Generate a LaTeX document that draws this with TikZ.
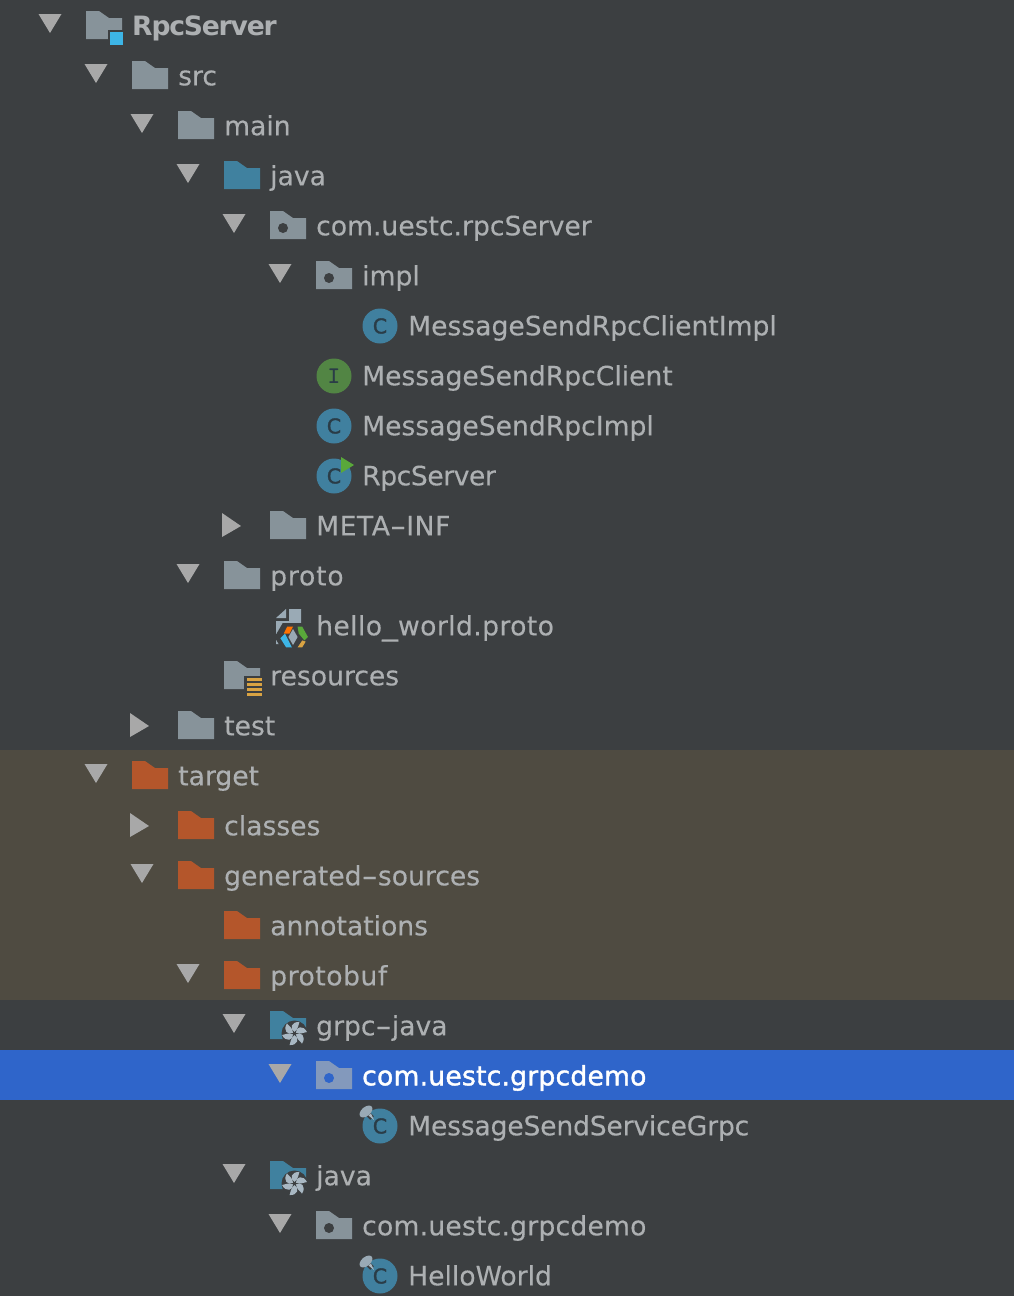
\documentclass[tikz,border=0pt]{standalone}
\usepackage{fontspec}
\setmainfont{DejaVu Sans}
\newfontfamily\rowfont[FakeBold=0.25]{DejaVu Sans}
\newfontfamily\pickedfont[FakeBold=1.5]{DejaVu Sans}
\usetikzlibrary{positioning}

\definecolor{panelbg}{HTML}{3C3F41}
\definecolor{excludedbg}{HTML}{4F4B41}
\definecolor{selectbg}{HTML}{2F65CA}
\definecolor{labelgray}{HTML}{ADB0B2}
\definecolor{arrowgray}{HTML}{A8A8A8}
\definecolor{foldergray}{HTML}{87939A}
\definecolor{folderselect}{HTML}{8399BC}
\definecolor{folderblue}{HTML}{40819F}
\definecolor{folderorange}{HTML}{B4562B}
\definecolor{classblue}{HTML}{40809F}
\definecolor{ifacegreen}{HTML}{528544}
\definecolor{glyphdark}{HTML}{2A3C47}
\definecolor{runngreen}{HTML}{59A83A}
\definecolor{modulecyan}{HTML}{3DB5E6}
\definecolor{stripeyellow}{HTML}{D9A343}
\definecolor{fanlight}{HTML}{A9B8C3}
\definecolor{paperlight}{HTML}{9AAAB5}

\newcommand{\widehyphen}{\scalebox{1.7}[1]{-}}

\tikzset{
    rowlabel/.style={anchor=base west, inner sep=0pt, yshift=0.7pt, text=labelgray, font=\fontsize{26.6}{30}\rowfont},
    spacedlabel/.style={rowlabel, font=\fontsize{26.6}{30}\rowfont\addfontfeature{LetterSpace=#1}},
    boldlabel/.style={rowlabel, font=\fontsize{26.6}{30}\bfseries\addfontfeature{LetterSpace=-4.5}},
    selectlabel/.style={rowlabel, text=white, font=\fontsize{26.6}{30}\pickedfont\addfontfeature{LetterSpace=0.8}},
    glyphlabel/.style={inner sep=0pt, text=glyphdark, font=\fontsize{20.5}{20}\pickedfont},
    % tree arrows
    opened/.pic={\fill[arrowgray] (-11.5,-12) -- (11.5,-12) -- (0,7) -- cycle;},
    closed/.pic={\fill[arrowgray] (-12,-13) -- (7,0) -- (-12,11) -- cycle;},
    % folders
    folder/.pic={\fill[#1] (-18,-15) -- (-5,-15) -- (5,-8) -- (18,-8) -- (18,13) -- (-18,13) -- cycle;},
    package/.pic={
        \pic {folder=foldergray};
        \fill[panelbg] (-5,2) circle (5);
    },
    selectedpackage/.pic={
        \pic {folder=folderselect};
        \fill[selectbg] (-5,2) circle (5);
    },
    module/.pic={
        \pic {folder=foldergray};
        \fill[modulecyan, draw=panelbg, line width=1.5pt] (5,5) rectangle (20,20);
    },
    resources/.pic={
        \pic {folder=foldergray};
        \fill[panelbg] (2,0) rectangle (22,22);
        \foreach \s in {2,7,12,17} {
            \fill[stripeyellow] (5,\s) rectangle (20,\s+2.6);
        }
    },
    generated/.pic={
        \pic {folder=folderblue};
        \fill[panelbg] (6.5,7.5) circle (13);
        \foreach \a in {0,60,...,300} {
            \fill[fanlight, shift={(6.5,7.5)}, rotate=\a, scale=1.1]
                (0,-1.5) .. controls (-5,-4) and (-3,-11) .. (4.5,-10.5)
                .. controls (3.5,-8) and (3.5,-4) .. (0,-1.5);
        }
    },
    % class icons
    classicon/.pic={
        \fill[classblue] (0,0) circle (17.5);
        \node[glyphlabel] (classGlyph) at (0,0) {C};
    },
    ifaceicon/.pic={
        \fill[ifacegreen] (0,0) circle (17.5);
        \node[glyphlabel, font=\fontsize{24}{24}\ttfamily\bfseries] (ifaceGlyph) at (0,0) {I};
    },
    runicon/.pic={
        \pic {classicon};
        \fill[runngreen] (7,-19) -- (20,-11) -- (7,-3) -- cycle;
    },
    lockedicon/.pic={
        \pic {classicon};
        \draw[panelbg, line width=5pt] (-15,-15) -- (-8,-8);
        \fill[paperlight, rotate around={40:(-14,-14.5)}] (-14,-14.5) ellipse (7.5 and 4.5);
        \fill[fanlight] (-11.5,-10.5) -- (-9,-12.5) -- (-6,-6) -- cycle;
    },
    protofile/.pic={
        \fill[paperlight] (-12,-8) -- (-2,-8) -- (-2,-17) -- cycle;
        \fill[paperlight] (1,-17) -- (13,-17) -- (13,18) -- (-12,18) -- (-12,-5) -- (1,-5) -- cycle;
        \begin{scope}[shift={(5,11)}, scale=1.15]
            \fill[panelbg] (-9,-12) -- (9,-12) -- (16,0) -- (9,12) -- (-9,12) -- (-16,0) -- cycle;
            \fill[orange!90!red] (-8,-3) -- (-5,-9) -- (0,-9) -- (-3,-3) -- cycle;
            \fill[runngreen] (4,-9) -- (8,-9) -- (13,0) -- (10,3) -- (5,-3) -- cycle;
            \fill[modulecyan] (-11,1) -- (-7,-3) -- (-1,9) -- (-6,9) -- cycle;
            \fill[stripeyellow] (4,9) -- (8,3) -- (11,4) -- (8,9) -- cycle;
            \fill[paperlight] (0,-7) -- (4,0) -- (0,7) -- (-4,0) -- cycle;
        \end{scope}
    }
}

\begin{document}
\begin{tikzpicture}[x=1pt, y=-1pt]
    \useasboundingbox (0,0) rectangle (1014,1296);

    % === Panel backgrounds ===
    \fill[panelbg] (0,0) rectangle (1014,1296);
    \fill[excludedbg] (0,750) rectangle (1014,1000);
    \fill[selectbg] (0,1050) rectangle (1014,1100);

    % === Sources ===
    \pic at (50,26) {opened};
    \pic at (104,26) {module};
    \node[boldlabel] (rpcServerRoot) at (132,36) {RpcServer};

    \pic at (96,76) {opened};
    \pic at (150,76) {folder=foldergray};
    \node[rowlabel] (srcDir) at (178,86) {src};

    \pic at (142,126) {opened};
    \pic at (196,126) {folder=foldergray};
    \node[rowlabel] (mainDir) at (224,136) {main};

    \pic at (188,176) {opened};
    \pic at (242,176) {folder=folderblue};
    \node[rowlabel] (javaDir) at (270,186) {java};

    \pic at (234,226) {opened};
    \pic at (288,226) {package};
    \node[rowlabel] (rpcPackage) at (316,236) {com.uestc.rpcServer};

    \pic at (280,276) {opened};
    \pic at (334,276) {package};
    \node[rowlabel] (implPackage) at (362,286) {impl};

    \pic at (380,326) {classicon};
    \node[rowlabel] (clientImpl) at (408,336) {MessageSendRpcClientImpl};

    \pic at (334,376) {ifaceicon};
    \node[rowlabel] (clientIface) at (362,386) {MessageSendRpcClient};

    \pic at (334,426) {classicon};
    \node[rowlabel] (rpcImpl) at (362,436) {MessageSendRpcImpl};

    \pic at (334,476) {runicon};
    \node[spacedlabel=-1.7] (rpcServerClass) at (362,486) {RpcServer};

    \pic at (234,526) {closed};
    \pic at (288,526) {folder=foldergray};
    \node[spacedlabel=2] (metaInf) at (316,536) {META\widehyphen INF};

    \pic at (188,576) {opened};
    \pic at (242,576) {folder=foldergray};
    \node[spacedlabel=3] (protoDir) at (270,586) {proto};

    \pic at (288,626) {protofile};
    \node[spacedlabel=1.5] (helloProto) at (316,636) {hello\scalebox{1.2}[1]{\_}world.proto};

    \pic at (242,676) {resources};
    \node[rowlabel] (resourcesDir) at (270,686) {resources};

    \pic at (142,726) {closed};
    \pic at (196,726) {folder=foldergray};
    \node[rowlabel] (testDir) at (224,736) {test};

    % === Build output ===
    \pic at (96,776) {opened};
    \pic at (150,776) {folder=folderorange};
    \node[rowlabel] (targetDir) at (178,786) {target};

    \pic at (142,826) {closed};
    \pic at (196,826) {folder=folderorange};
    \node[rowlabel] (classesDir) at (224,836) {classes};

    \pic at (142,876) {opened};
    \pic at (196,876) {folder=folderorange};
    \node[rowlabel] (generatedDir) at (224,886) {generated\widehyphen sources};

    \pic at (242,926) {folder=folderorange};
    \node[rowlabel] (annotationsDir) at (270,936) {annotations};

    \pic at (188,976) {opened};
    \pic at (242,976) {folder=folderorange};
    \node[spacedlabel=2] (protobufDir) at (270,986) {protobuf};

    % === Generated roots ===
    \pic at (234,1026) {opened};
    \pic at (288,1026) {generated};
    \node[rowlabel] (grpcJavaDir) at (316,1036) {grpc\widehyphen java};

    \pic at (280,1076) {opened};
    \pic at (334,1076) {selectedpackage};
    \node[selectlabel] (grpcPackage) at (362,1086) {com.uestc.grpcdemo};

    \pic at (380,1126) {lockedicon};
    \node[spacedlabel=-0.7] (serviceGrpc) at (408,1136) {MessageSendServiceGrpc};

    \pic at (234,1176) {opened};
    \pic at (288,1176) {generated};
    \node[rowlabel] (genJavaDir) at (316,1186) {java};

    \pic at (280,1226) {opened};
    \pic at (334,1226) {package};
    \node[spacedlabel=0.8] (demoPackage) at (362,1236) {com.uestc.grpcdemo};

    \pic at (380,1276) {lockedicon};
    \node[rowlabel] (helloWorld) at (408,1286) {HelloWorld};
\end{tikzpicture}
\end{document}
